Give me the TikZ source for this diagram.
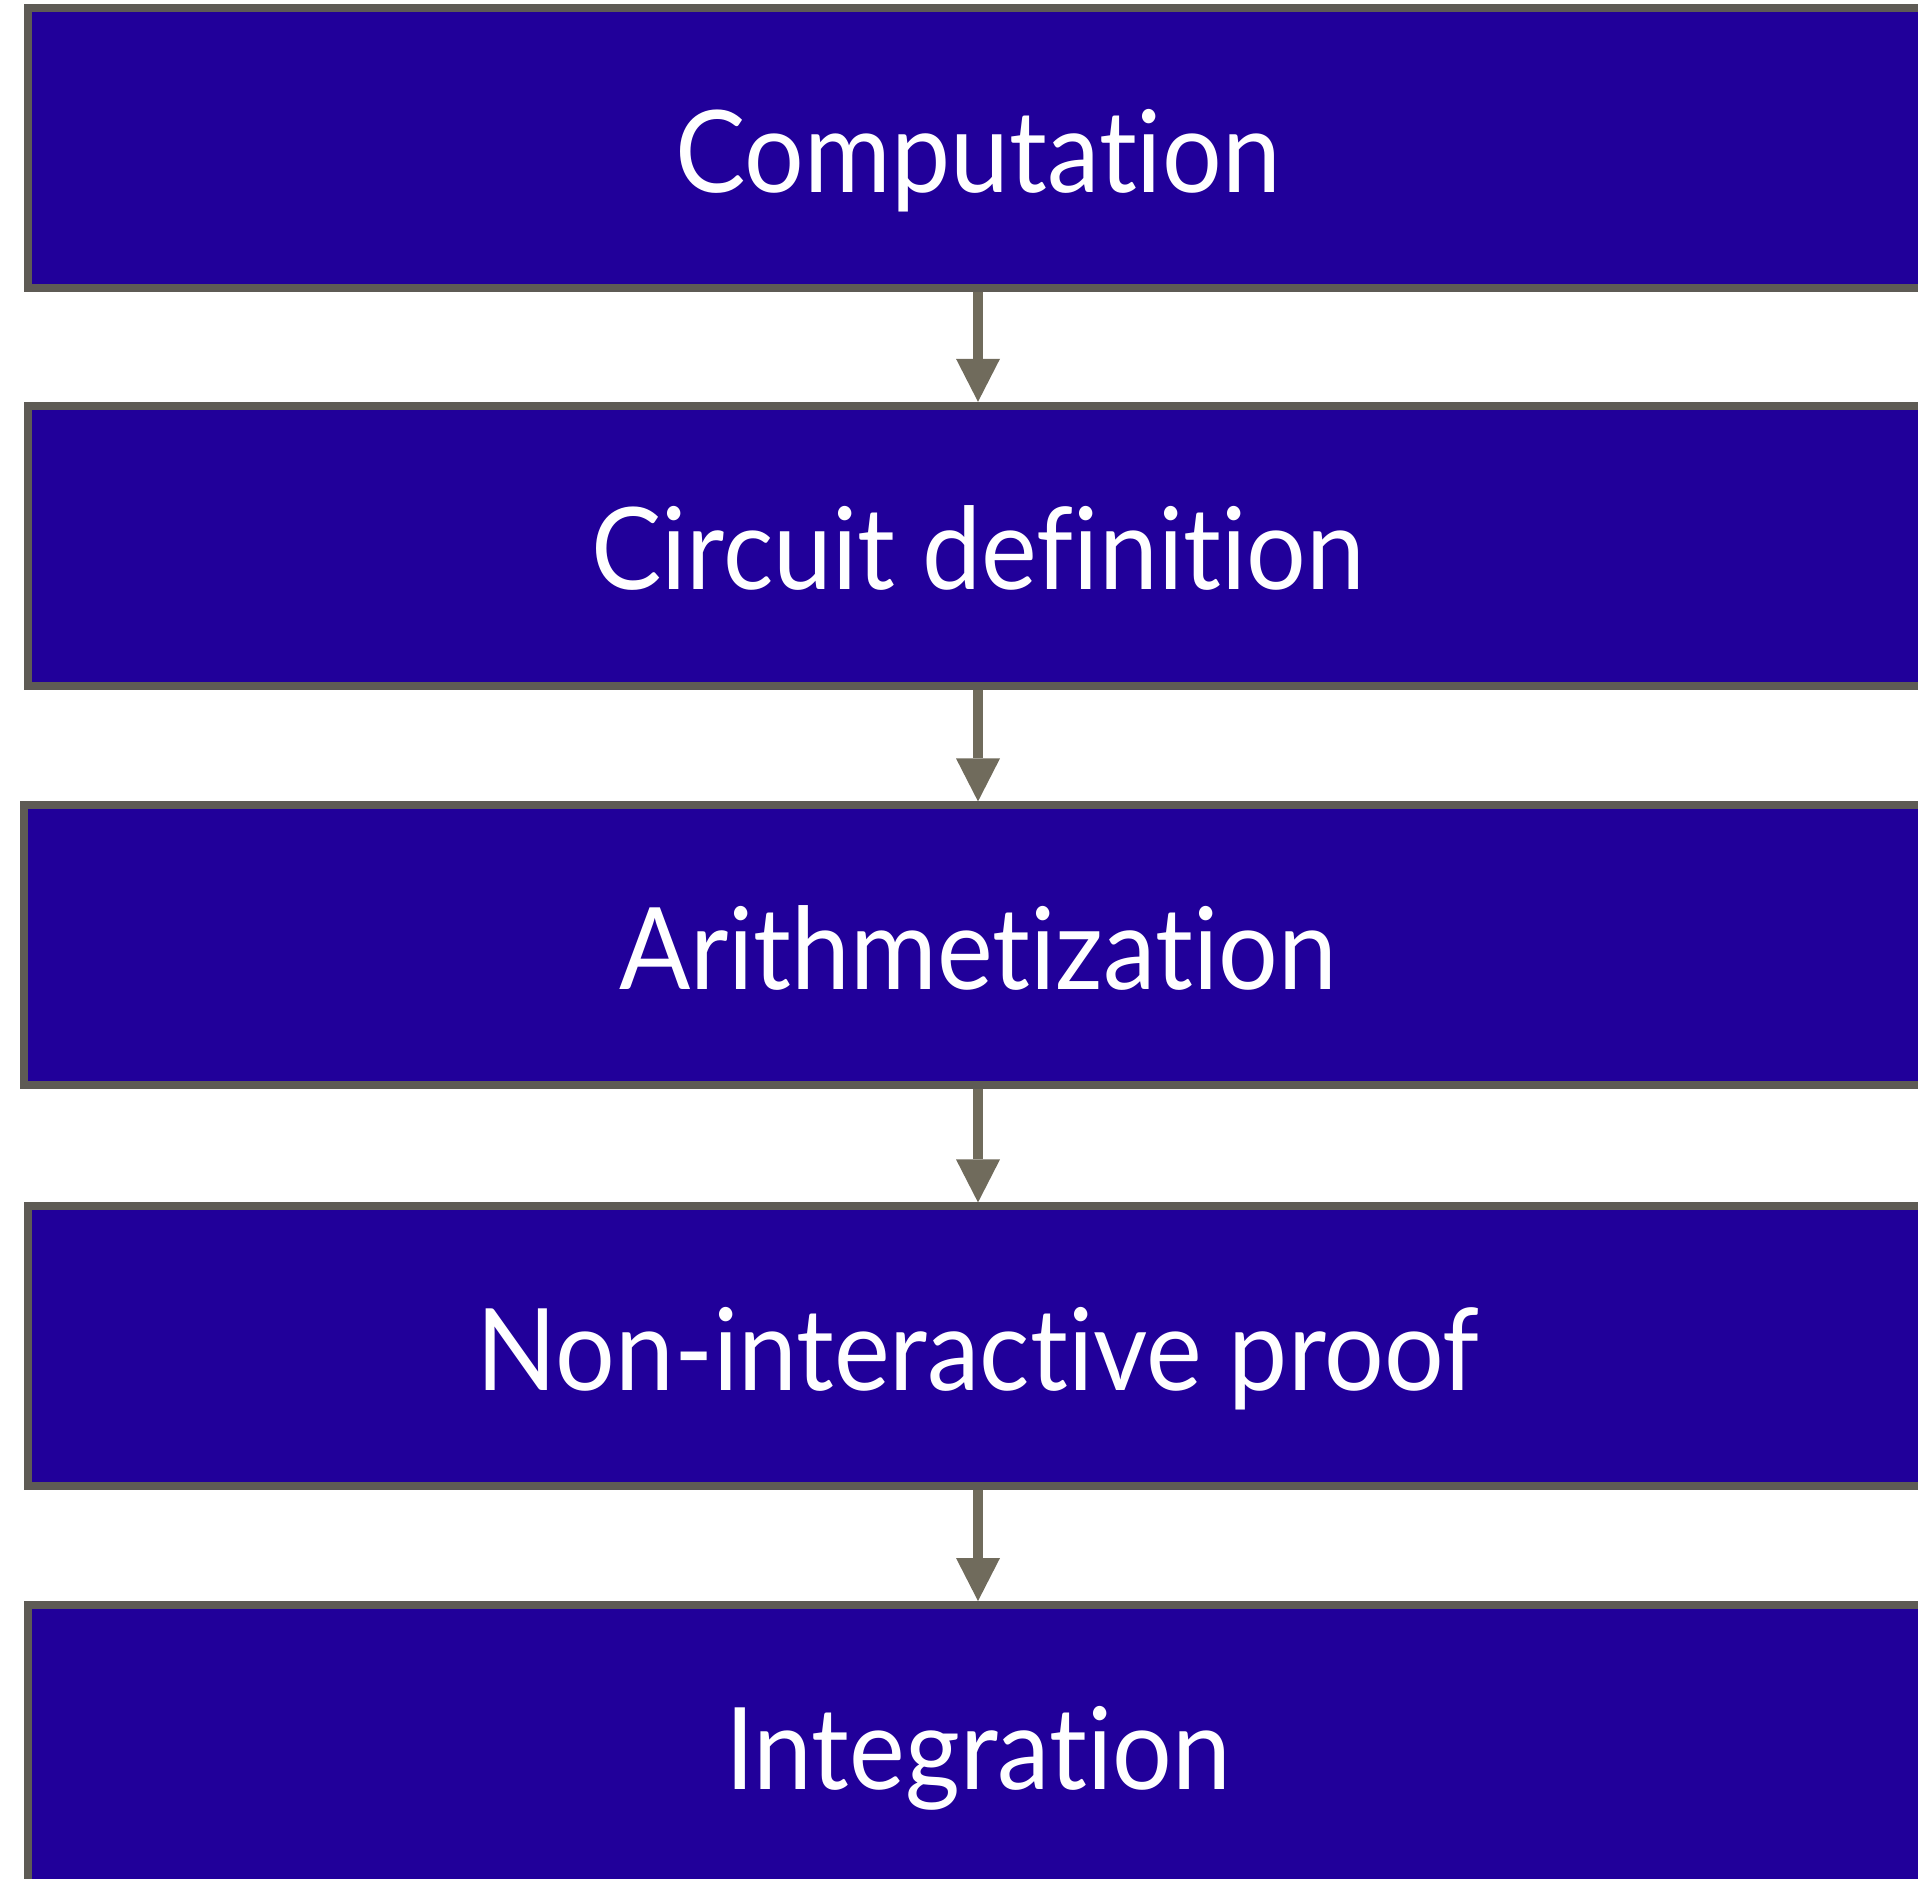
\documentclass[tikz,border=0pt]{standalone}
\usepackage{fontspec}
\setmainfont[Ligatures=NoCommon,FakeStretch=0.925]{Lato}
\usetikzlibrary{arrows.meta}
\definecolor{boxblue}{RGB}{33,0,154}
\definecolor{boxgray}{RGB}{94,91,85}
\definecolor{arrowgray}{RGB}{112,107,92}

\begin{document}
\begin{tikzpicture}[x=1pt,y=1pt,
    stage/.style={rectangle,draw=boxgray,fill=boxblue,line width=8pt,minimum width=1900pt,minimum height=280pt,inner sep=0pt,text=white,font=\fontsize{114}{130}\selectfont,text height=88pt,text depth=0pt},
    flow/.style={draw=arrowgray,line width=10pt,-{Triangle[width=44pt,length=43pt,line width=0pt]}}]
            \useasboundingbox (0,0) rectangle (1918,-1878);
            \node[stage] (comp) at (978,-148.3) {Computation};
            \node[stage] (circ) at (978,-545.8) {Circuit definition};
            \node[stage,minimum width=1908pt] (arith) at (978,-945.4) {Arithmetization};
            \node[stage] (proof) at (978,-1346.4) {Non-interactive proof};
            \node[stage] (integ) at (978,-1745) {Integration};
            \draw[flow] (comp) -- (circ);
            \draw[flow] (circ) -- (arith);
            \draw[flow] (arith) -- (proof);
            \draw[flow] (proof) -- (integ);
        \end{tikzpicture}
\end{document}
